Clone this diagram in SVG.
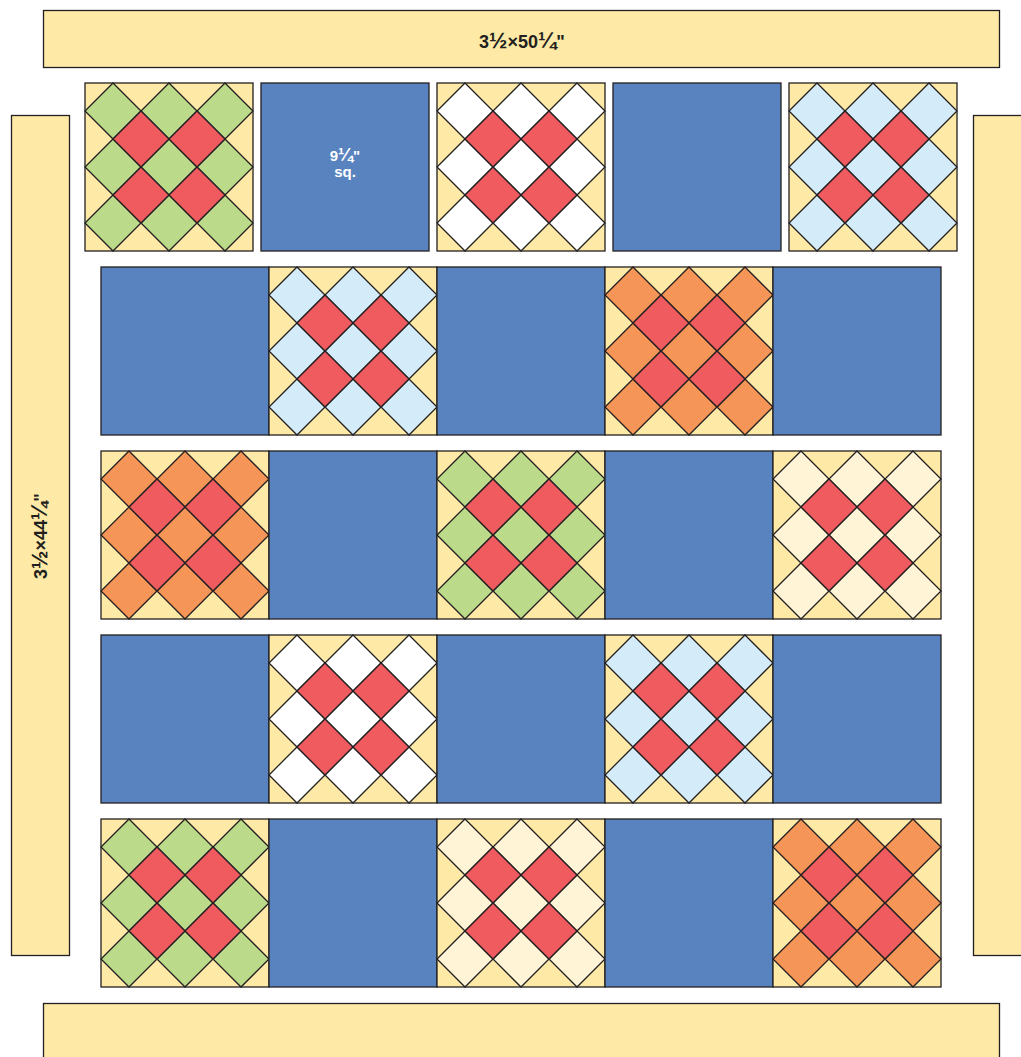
<svg xmlns="http://www.w3.org/2000/svg" xmlns:xlink="http://www.w3.org/1999/xlink" width="1021" height="1057" viewBox="0 0 1021 1057">
<style>
.ln{stroke:#231f20;stroke-width:1.3;stroke-linejoin:miter}
.bg{fill:#FEEAA6}
.blue{fill:#5983BF}
.red{fill:#EF5B5E}
.out{fill:currentColor}
.lbl{font-family:"Liberation Sans",Arial,sans-serif;font-weight:bold;fill:#231f20;text-anchor:middle;font-size:18px}
.fr{font-size:22px}
.wl{font-family:"Liberation Sans",Arial,sans-serif;font-weight:bold;fill:#ffffff;text-anchor:middle;font-size:15px}
</style>
<defs>
<symbol id="pieced" viewBox="0 0 168 168" width="168" height="168" overflow="visible">
<rect class="bg ln" x="0" y="0" width="168" height="168"/>
<path class="out ln" d="M28 0L56 28L28 56L0 28Z M84 0L112 28L84 56L56 28Z M140 0L168 28L140 56L112 28Z M28 56L56 84L28 112L0 84Z M84 56L112 84L84 112L56 84Z M140 56L168 84L140 112L112 84Z M28 112L56 140L28 168L0 140Z M84 112L112 140L84 168L56 140Z M140 112L168 140L140 168L112 140Z"/>
<path class="red ln" d="M56 28L84 56L56 84L28 56Z M112 28L140 56L112 84L84 56Z M56 84L84 112L56 140L28 112Z M112 84L140 112L112 140L84 112Z"/>
</symbol>
<symbol id="plain" viewBox="0 0 168 168" width="168" height="168" overflow="visible">
<rect class="blue ln" x="0" y="0" width="168" height="168"/>
</symbol>
</defs>

<g id="border-top"><rect class="bg ln" x="43.5" y="10.5" width="956" height="57"/><text class="lbl" x="522" y="48">3<tspan class="fr">½</tspan>×50<tspan class="fr">¼</tspan>"</text></g>
<g id="border-bottom"><rect class="bg ln" x="43.5" y="1003.5" width="956" height="70"/></g>
<g id="border-left"><rect class="bg ln" x="11.5" y="115.5" width="58" height="840"/><text class="lbl" transform="translate(47 536) rotate(-90)">3<tspan class="fr">½</tspan>×44<tspan class="fr">¼</tspan>"</text></g>
<g id="border-right"><rect class="bg ln" x="973.5" y="115.5" width="70" height="840"/></g>

<g id="row1">
<g id="r1c1"><use xlink:href="#pieced" x="85" y="83" style="color:#BBDA8A"/></g>
<g id="r1c2"><use xlink:href="#plain" x="261" y="83"/><text class="wl" x="345" y="161">9<tspan font-size="18">¼</tspan>"</text><text class="wl" x="345" y="177">sq.</text></g>
<g id="r1c3"><use xlink:href="#pieced" x="437" y="83" style="color:#FFFFFF"/></g>
<g id="r1c4"><use xlink:href="#plain" x="613" y="83"/></g>
<g id="r1c5"><use xlink:href="#pieced" x="789" y="83" style="color:#D4ECF9"/></g>
</g>
<g id="row2">
<g id="r2c1"><use xlink:href="#plain" x="101" y="267"/></g>
<g id="r2c2"><use xlink:href="#pieced" x="269" y="267" style="color:#D4ECF9"/></g>
<g id="r2c3"><use xlink:href="#plain" x="437" y="267"/></g>
<g id="r2c4"><use xlink:href="#pieced" x="605" y="267" style="color:#F59557"/></g>
<g id="r2c5"><use xlink:href="#plain" x="773" y="267"/></g>
</g>
<g id="row3">
<g id="r3c1"><use xlink:href="#pieced" x="101" y="451" style="color:#F59557"/></g>
<g id="r3c2"><use xlink:href="#plain" x="269" y="451"/></g>
<g id="r3c3"><use xlink:href="#pieced" x="437" y="451" style="color:#BBDA8A"/></g>
<g id="r3c4"><use xlink:href="#plain" x="605" y="451"/></g>
<g id="r3c5"><use xlink:href="#pieced" x="773" y="451" style="color:#FFF5D6"/></g>
</g>
<g id="row4">
<g id="r4c1"><use xlink:href="#plain" x="101" y="635"/></g>
<g id="r4c2"><use xlink:href="#pieced" x="269" y="635" style="color:#FFFFFF"/></g>
<g id="r4c3"><use xlink:href="#plain" x="437" y="635"/></g>
<g id="r4c4"><use xlink:href="#pieced" x="605" y="635" style="color:#D4ECF9"/></g>
<g id="r4c5"><use xlink:href="#plain" x="773" y="635"/></g>
</g>
<g id="row5">
<g id="r5c1"><use xlink:href="#pieced" x="101" y="819" style="color:#BBDA8A"/></g>
<g id="r5c2"><use xlink:href="#plain" x="269" y="819"/></g>
<g id="r5c3"><use xlink:href="#pieced" x="437" y="819" style="color:#FFF5D6"/></g>
<g id="r5c4"><use xlink:href="#plain" x="605" y="819"/></g>
<g id="r5c5"><use xlink:href="#pieced" x="773" y="819" style="color:#F59557"/></g>
</g>
</svg>
